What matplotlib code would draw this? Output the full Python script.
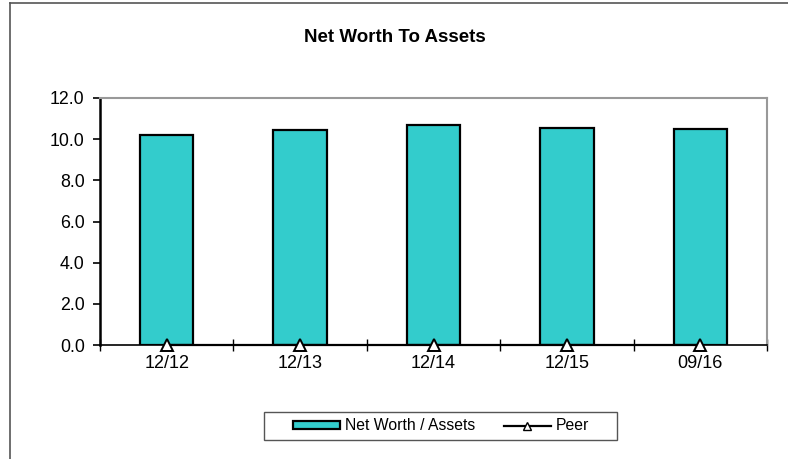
import matplotlib.pyplot as plt
from matplotlib.lines import Line2D
from matplotlib.patches import Rectangle
import numpy as np

plt.rcParams['font.family'] = ['Liberation Sans', 'DejaVu Sans']

# data
periods = ["12/12", "12/13", "12/14", "12/15", "09/16"]
net_worth = [10.22, 10.46, 10.67, 10.54, 10.51]
peer = [0.0, 0.0, 0.0, 0.0, 0.0]

fig = plt.figure(figsize=(7.88, 4.59), dpi=100)
ax = fig.add_axes([100 / 788, 114 / 459, 667 / 788, 247 / 459])

x = np.arange(len(periods))
ax.bar(x, net_worth, width=0.4, color="#33CCCC", edgecolor="black", linewidth=1.6,
       label="Net Worth / Assets", zorder=2)
ax.plot(x, peer, color="black", linewidth=1.6, marker="^", markersize=9,
        markerfacecolor="white", markeredgecolor="black", markeredgewidth=1.4,
        label="Peer", zorder=3, clip_on=False)

ax.set_xlim(-0.5, len(periods) - 0.5)
ax.set_ylim(0, 12)
ax.set_yticks(np.arange(0, 12.1, 2))
ax.set_yticklabels([f"{v:.1f}" for v in np.arange(0, 12.1, 2)], fontsize=12.8)
ax.set_xticks(x)
ax.set_xticklabels(periods, fontsize=13)
ax.tick_params(axis="x", length=0, pad=7)
ax.set_xticks(np.arange(-0.5, len(periods), 1), minor=True)
ax.tick_params(axis="x", which="minor", direction="inout", length=9, width=1)
ax.tick_params(axis="y", direction="out", length=5, width=1.2, pad=6)

for side in ["top", "right"]:
    ax.spines[side].set_color("#999999")
    ax.spines[side].set_linewidth(1.5)
ax.spines["left"].set_linewidth(1.8)
ax.spines["bottom"].set_linewidth(1.2)

fig.text(395 / 788, 1 - 37 / 459, "Net Worth To Assets", ha="center", va="center",
         fontsize=13.5, fontweight="bold")

# outer frame (left and top edges visible in the reference)
fig.add_artist(Line2D([10 / 788, 10 / 788], [0, 1 - 3 / 459], color="#555555", linewidth=1.2))
fig.add_artist(Line2D([10 / 788, 1], [1 - 3 / 459, 1 - 3 / 459], color="#555555", linewidth=1.2))

# legend box drawn separately, it is wider than the legend entries
fig.add_artist(Rectangle((264 / 788, 1 - 440 / 459), 353 / 788, 28 / 459,
                         transform=fig.transFigure, facecolor="white",
                         edgecolor="#555555", linewidth=1.0))

handles = [Rectangle((0, 0), 1, 1, facecolor="#33CCCC", edgecolor="black", linewidth=1.6),
           Line2D([], [], color="black", linewidth=1.6, marker="^", markersize=6,
                  markerfacecolor="white", markeredgecolor="black")]
leg = fig.legend(handles, ["Net Worth / Assets", "Peer"], loc="center",
                 bbox_to_anchor=(441 / 788, 1 - 426 / 459), ncol=2, fontsize=11.3,
                 frameon=False, handlelength=3.0, handleheight=0.45,
                 handletextpad=0.3, columnspacing=1.8, borderpad=0, borderaxespad=0)

fig.savefig("out.png", dpi=100)
